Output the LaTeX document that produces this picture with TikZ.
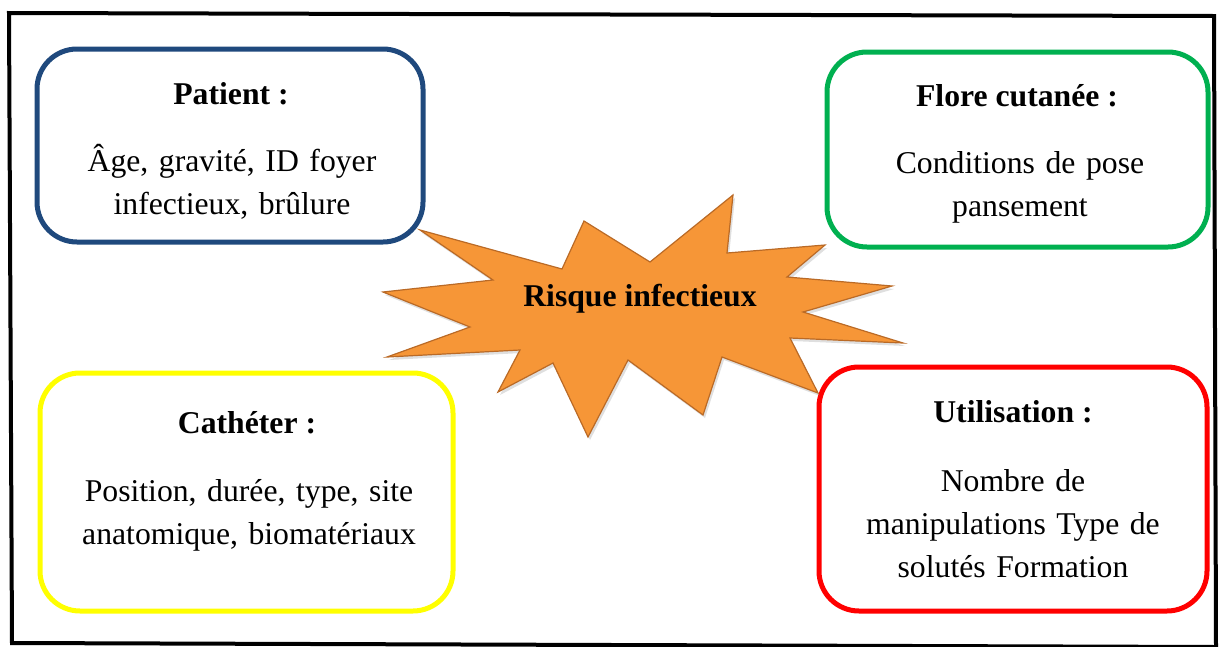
\documentclass[tikz,border=0pt]{standalone}
\usepackage{fontspec}
\setmainfont{Liberation Serif}
\usetikzlibrary{shadows}

\definecolor{patientblue}{RGB}{31,73,125}
\definecolor{floregreen}{RGB}{0,176,80}
\definecolor{catheteryellow}{RGB}{255,255,0}
\definecolor{usagered}{RGB}{255,0,0}
\definecolor{burstorange}{RGB}{246,150,55}
\definecolor{burstedge}{RGB}{186,106,38}

\begin{document}
\begin{tikzpicture}[x=1pt,y=-1pt,
  card/.style={draw=#1, line width=5pt, rounded corners=40pt, fill=white,
               rectangle, inner sep=0pt},
  ttl/.style={font=\fontsize{31.7}{43}\selectfont\bfseries, anchor=base, inner sep=0pt},
  txt/.style={font=\fontsize{31.7}{43}\selectfont, anchor=base, inner sep=0pt,
              align=center, text width=430pt},
  burst/.style={fill=burstorange, draw=burstedge, line width=1.2pt, line join=miter,
                drop shadow={opacity=0.25, shadow xshift=2pt, shadow yshift=-3pt}}]
\useasboundingbox (0,0) rectangle (1219,646);

% outer frame
\draw[line width=4pt, line join=miter] (9,13) -- (1214,16) -- (1216,647) -- (12,643) -- cycle;

% the four factor cards
\node[card=patientblue,    minimum width=386pt, minimum height=193pt] (patient) at (230,145.5) {};
\node[card=floregreen,     minimum width=381pt, minimum height=195pt] (flore)   at (1017.5,149.5) {};
\node[card=catheteryellow, minimum width=413pt, minimum height=238pt] (cath)    at (246.5,492) {};
\node[card=usagered,       minimum width=388pt, minimum height=244pt] (usage)   at (1013,489) {};

% central burst
\path[burst] (383,292) -- (493,280) -- (420,230) -- (562,269) -- (584,221) -- (650,262)
  -- (733,195) -- (727,253) -- (825,245) -- (787,277) -- (892,286) -- (803,312)
  -- (903,343) -- (790,338) -- (818,393) -- (722,357) -- (703,415) -- (628,360)
  -- (588,437) -- (553,363) -- (498,392) -- (520,350) -- (387,357) -- (470,327) -- cycle;
\node[ttl] (risk) at (640,306) {Risque infectieux};

% card texts
\node[ttl] (patientT) at (231,104) {Patient :};
\node[txt] (patientB) at (232,171) {Âge, gravité, ID foyer\\infectieux, brûlure};

\node[ttl] (floreT) at (1017,106) {Flore cutanée :};
\node[txt] (floreB) at (1020,173) {Conditions de pose\\pansement};

\node[ttl] (cathT) at (247,433) {Cathéter :};
\node[txt] (cathB) at (249,501) {Position, durée, type, site\\anatomique, biomatériaux};

\node[ttl] (usageT) at (1013,422) {Utilisation :};
\node[txt] (usageB) at (1013,491) {Nombre de\\manipulations Type de\\solutés Formation};
\end{tikzpicture}
\end{document}
